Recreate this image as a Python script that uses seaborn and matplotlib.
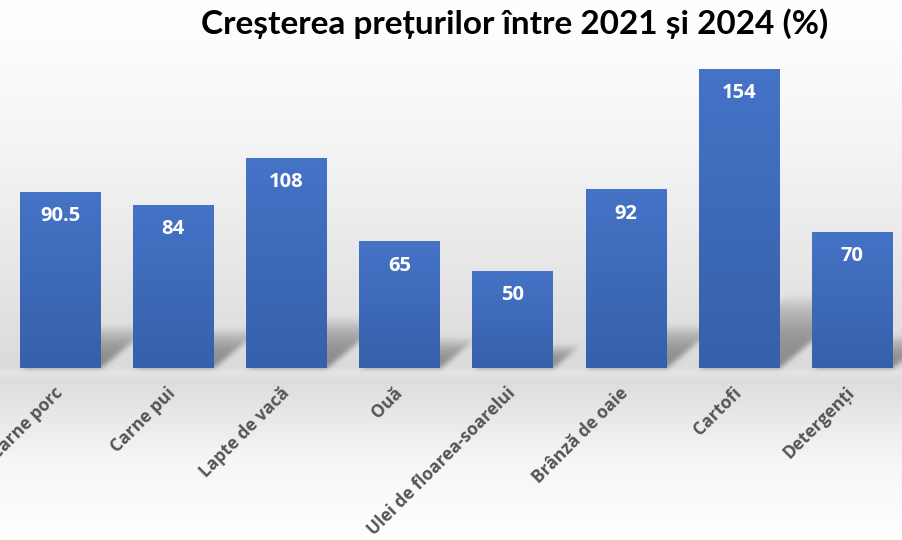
import numpy as np
import pandas as pd
import seaborn as sns
import matplotlib.pyplot as plt
from matplotlib.colors import LinearSegmentedColormap

categories = ['Carne porc', 'Carne pui', 'Lapte de vacă', 'Ouă', 'Ulei de floarea-soarelui',
              'Brânză de oaie', 'Cartofi', 'Detergenți']
values = [90.5, 84, 108, 65, 50, 92, 154, 70]
value_labels = ['90.5', '84', '108', '65', '50', '92', '154', '70']
title = 'Creșterea prețurilor între 2021 și 2024 (%)'

sns.set_theme(style='white')
plt.rcParams['font.family'] = ['Open Sans', 'DejaVu Sans']

W, H = 903, 540
fig = plt.figure(figsize=(W / 100, H / 100), dpi=100)

ax = fig.add_axes([0.0039, 0.3185, 1.0022, 0.5748])
ax.set_facecolor('none')
ax.set_zorder(2)
df = pd.DataFrame({'cat': categories, 'val': values})
sns.barplot(data=df, x='cat', y='val', color='#4472C4', width=0.71, ax=ax)
ax.set_ylim(0, 160)
ax.set_xlim(-0.5, len(categories) - 0.5)
sns.despine(ax=ax, left=True, bottom=True)
ax.set_yticks([])
ax.set_xlabel('')
ax.set_ylabel('')
ax.tick_params(axis='x', length=0, pad=16)
ax.set_xticks(range(len(categories)))
ax.set_xticklabels(categories, rotation=45, ha='right', va='center', rotation_mode='anchor',
                   fontsize=12.5, fontweight='bold', color='#555555')

# gradient fill for bars
bar_cmap = LinearSegmentedColormap.from_list('bar', ['#3560AB', '#4573C6'])
grad = np.linspace(0, 1, 256).reshape(-1, 1)
fig.canvas.draw()
bars_px = []
for p in ax.patches:
    x0, y0 = p.get_x(), p.get_y()
    w, h = p.get_width(), p.get_height()
    p.set_facecolor('none')
    p.set_edgecolor('none')
    ax.imshow(grad, cmap=bar_cmap, extent=[x0, x0 + w, y0, y0 + h], aspect='auto',
              origin='lower', zorder=3, interpolation='bilinear')
    (px0, py0), (px1, py1) = ax.transData.transform([(x0, y0), (x0 + w, y0 + h)])
    bars_px.append((px0, px1, H - py0, H - py1))
ax.set_xlim(-0.5, len(categories) - 0.5)
ax.set_ylim(0, 160)

for i, (v, lab) in enumerate(zip(values, value_labels)):
    ax.annotate(lab, (i, v), xytext=(0, -24), textcoords='offset pixels', ha='center',
                va='center', color='white', fontsize=14.5, fontweight='bold', zorder=5)

# background: vertical gradient with soft bar shadows
rows = np.arange(H)
ys = [0, 40, 160, 300, 366, 372, 380, 460, 540]
gs = [255, 253, 243, 227, 219, 228, 221, 246, 255]
col = np.interp(rows, ys, gs) / 255.0
bg = np.repeat(col[:, None], W, axis=1)

mask = np.zeros((H, W))
xx = np.arange(W)
for px0, px1, base, top in bars_px:
    hs = 0.25 * (base - top)
    d = 1.2 * hs
    for r in range(int(base - hs), int(base)):
        t = (base - r) / hs
        lo, hi = px0 + t * d, px1 + t * d
        sel = (xx >= lo) & (xx <= hi)
        mask[r, sel] = np.maximum(mask[r, sel], 1 - t ** 2.5)


def box_blur(a, k):
    for axis in (0, 1):
        pad = [(0, 0), (0, 0)]
        pad[axis] = (k, k)
        b = np.pad(a, pad, mode='edge')
        c = np.cumsum(b, axis=axis)
        c = np.insert(c, 0, 0, axis=axis)
        n = a.shape[axis]
        if axis == 0:
            a = (c[2 * k + 1:2 * k + 1 + n] - c[:n]) / (2 * k + 1)
        else:
            a = (c[:, 2 * k + 1:2 * k + 1 + n] - c[:, :n]) / (2 * k + 1)
    return a


for _ in range(3):
    mask = box_blur(mask, 2)
bg = bg * (1 - 0.36 * mask)

bg_ax = fig.add_axes([0, 0, 1, 1])
bg_ax.set_zorder(0)
bg_ax.imshow(np.dstack([bg, bg, bg]), aspect='auto', extent=[0, W, H, 0], interpolation='bilinear')
bg_ax.axis('off')

fig.text(0.570, 0.957, title, ha='center', va='center', fontsize=24, fontweight='bold',
         color='black', family=['Lato', 'DejaVu Sans'])

fig.savefig('out.png', dpi=100)
